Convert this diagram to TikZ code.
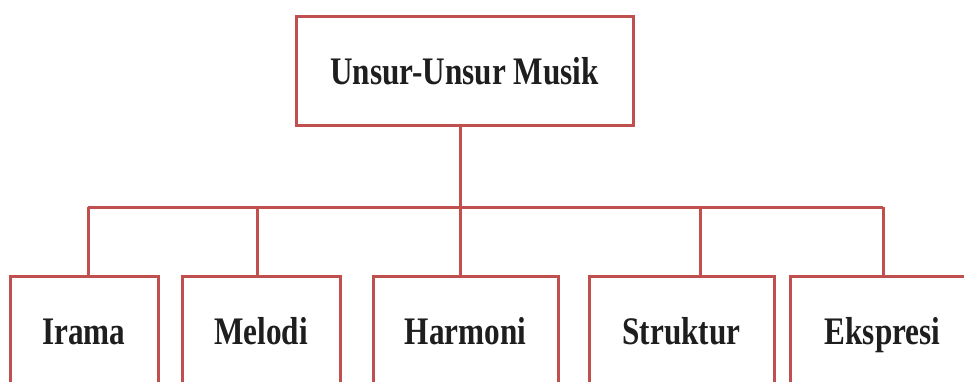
\documentclass[tikz,border=0pt]{standalone}
\usepackage{fontspec}
\setmainfont{Liberation Serif}[FakeStretch=0.8]
\definecolor{boxred}{RGB}{192,80,77}
\definecolor{txt}{RGB}{30,30,30}
\tikzset{
  box/.style={draw=boxred, line width=3pt, rectangle, inner sep=0pt,
    text height=27pt, text depth=0pt, text=txt,
    font=\fontsize{39}{39}\selectfont\bfseries, fill=white},
  link/.style={draw=boxred, line width=3pt}
}
\begin{document}
\begin{tikzpicture}[x=1pt,y=1pt]
\clip (0,0) rectangle (964,381);
\fill[white] (0,0) rectangle (964,381);
\node[box, minimum width=337pt, minimum height=109pt] (top) at (464.5,309.5) {Unsur-Unsur Musik};
\node[box, minimum width=148pt, minimum height=110pt] (irama) at (84,50) {Irama};
\node[box, minimum width=158pt, minimum height=110pt] (melodi) at (261,50) {Melodi};
\node[box, minimum width=185pt, minimum height=110pt] (harmoni) at (465.5,50) {Harmoni};
\node[box, minimum width=185pt, minimum height=110pt] (struktur) at (681.5,50) {Struktur};
\node[box, minimum width=185pt, minimum height=110pt] (ekspresi) at (882.5,50) {Ekspresi};
\coordinate (d1) at (88,174);
\coordinate (d2) at (257,174);
\coordinate (d3) at (460,174);
\coordinate (d4) at (700,174);
\coordinate (d5) at (883,174);
\draw[link] (top.south -| d3) -- (d3);
\draw[link] (d1) -- (d5);
\draw[link] (d1) -- (d1 |- irama.north);
\draw[link] (d2) -- (d2 |- melodi.north);
\draw[link] (d3) -- (d3 |- harmoni.north);
\draw[link] (d4) -- (d4 |- struktur.north);
\draw[link] (d5) -- (d5 |- ekspresi.north);
\end{tikzpicture}
\end{document}
